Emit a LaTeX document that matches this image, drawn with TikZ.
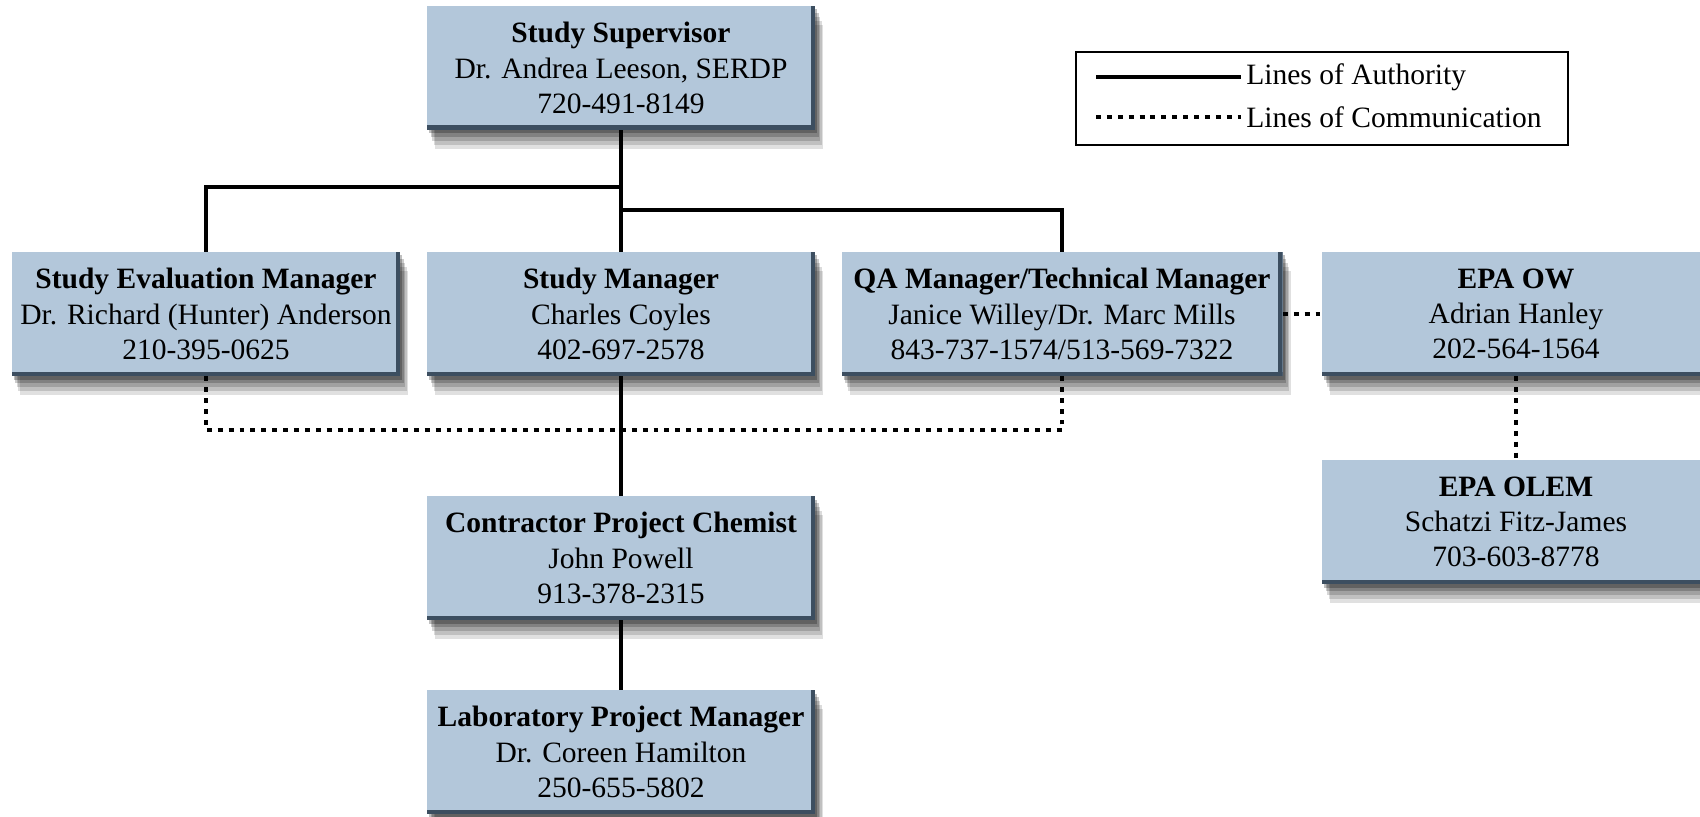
\documentclass[tikz,border=0pt]{standalone}
\usepackage{fontspec}
\setmainfont{Liberation Serif}
\usepackage{tikz}
\usetikzlibrary{shadows}
\definecolor{boxblue}{RGB}{179,199,218}
\definecolor{boxedge}{RGB}{60,78,96}
\tikzstyle{orgbox}=[rectangle, fill=boxblue, minimum width=77.6mm, minimum height=24.8mm,% bevel at the right and at the bottom
inner sep=0pt, align=center, font=\fontsize{16.8}{20}\selectfont,
drop shadow={shadow xshift=1.6mm, shadow yshift=-3.8mm, opacity=.12, fill=black},
drop shadow={shadow xshift=1.3mm, shadow yshift=-3mm, opacity=.14, fill=black},
drop shadow={shadow xshift=1mm, shadow yshift=-2.2mm, opacity=.16, fill=black},
drop shadow={shadow xshift=.7mm, shadow yshift=-1.4mm, opacity=.2, fill=black},
drop shadow={shadow xshift=.4mm, shadow yshift=-.7mm, opacity=.25, fill=black},
path picture={\fill[boxedge] (path picture bounding box.south west) rectangle ([yshift=0.9mm]path picture bounding box.south east);
\fill[boxedge] ([xshift=-0.9mm]path picture bounding box.south east) rectangle (path picture bounding box.north east);}]
\tikzstyle{authority}=[line width=2.3pt]
\tikzstyle{communication}=[line width=2.3pt, dash pattern=on 2.8pt off 3.4pt]
\tikzstyle{legendtext}=[anchor=west, inner sep=0pt, font=\fontsize{16.8}{20}\selectfont]

\begin{document}
\begin{tikzpicture}[x=0.2mm, y=-0.2mm]
\useasboundingbox (0,0) rectangle (1700,817);
\node[orgbox] (sup) at (621,68) {\textbf{Study Supervisor}\\Dr. Andrea Leeson, SERDP\\720-491-8149};
\node[orgbox] (eval) at (206,314) {\textbf{Study Evaluation Manager}\\Dr. Richard (Hunter) Anderson\\210-395-0625};
\node[orgbox] (sm) at (621,314) {\textbf{Study Manager}\\Charles Coyles\\402-697-2578};
\node[orgbox, minimum width=88.2mm] (qa) at (1062,314) {\textbf{QA Manager/Technical Manager}\\Janice Willey/Dr. Marc Mills\\843-737-1574/513-569-7322};
\node[orgbox] (ow) at (1516,314) {\textbf{EPA OW}\\Adrian Hanley\\202-564-1564};
\node[orgbox] (olem) at (1516,522) {\textbf{EPA OLEM}\\Schatzi Fitz-James\\703-603-8778};
\node[orgbox] (con) at (621,558) {\textbf{Contractor Project Chemist}\\John Powell\\913-378-2315};
\node[orgbox] (lab) at (621,752) {\textbf{Laboratory Project Manager}\\Dr. Coreen Hamilton\\250-655-5802};
\coordinate (j1) at (621,187);
\coordinate (j2) at (621,210);
\coordinate (j3) at (621,430);
\draw[authority] (sup) -- (sm);
\draw[authority] (eval.north) |- (j1);
\draw[authority] (qa.north) |- (j2);
\draw[communication] (eval.south) |- (j3) -| (qa.south);
\draw[authority] (sm) -- (con);
\draw[authority] (con) -- (lab);
\draw[communication] (qa) -- (ow);
\draw[communication] (ow) -- (olem);
\node[draw, line width=1.5pt, minimum width=98.4mm, minimum height=18.6mm] (legend) at (1322,98.5) {};
\coordinate (la1) at (1096,77);
\coordinate (la2) at (1241,77);
\coordinate (lc1) at (1096,117);
\coordinate (lc2) at (1241,117);
\draw[authority] (la1) -- (la2);
\draw[communication] (lc1) -- (lc2);
\node[legendtext] (latext) at (1246,77) {Lines of Authority};
\node[legendtext] (lctext) at (1246,117) {Lines of Communication};
\end{tikzpicture}
\end{document}
